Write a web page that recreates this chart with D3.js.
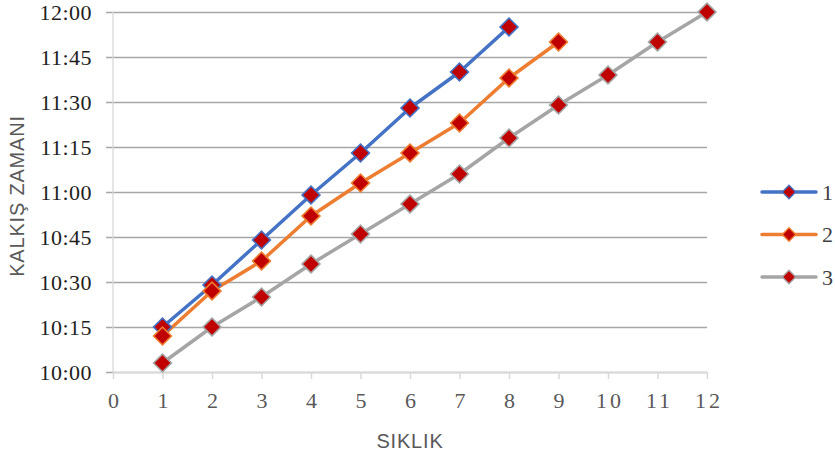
<!DOCTYPE html>
<html>
<head>
<meta charset="utf-8">
<script src="https://cdn.jsdelivr.net/npm/d3@7"></script>
<style>
  body { margin: 0; background: #fff; }
  .serif { font-family: "Liberation Serif", "Times New Roman", "DejaVu Serif", serif; }
  .sans { font-family: "Liberation Sans", Arial, sans-serif; }
</style>
</head>
<body>
<div id="wrapper"></div>
<script>
// values
const xTicks = [0, 1, 2, 3, 4, 5, 6, 7, 8, 9, 10, 11, 12];
const yTicks = ["10:00", "10:15", "10:30", "10:45", "11:00", "11:15", "11:30", "11:45", "12:00"];
const seriesNames = ["1", "2", "3"];
const seriesColors = ["#4472C4", "#ED7D31", "#A5A5A5"];
const series1 = ["10:15", "10:29", "10:44", "10:59", "11:13", "11:28", "11:40", "11:55"];
const series2 = ["10:12", "10:27", "10:37", "10:52", "11:03", "11:13", "11:23", "11:38", "11:50"];
const series3 = ["10:03", "10:15", "10:25", "10:36", "10:46", "10:56", "11:06", "11:18", "11:29", "11:39", "11:50", "12:00"];
const markerFill = "#C00000";

function buildPlot() {
    const toMin = (s) => { const p = s.split(":"); return +p[0] * 60 + +p[1]; };
    const fmt = (m) => Math.floor(m / 60) + ":" + String(m % 60).padStart(2, "0");

    const allSeries = [series1, series2, series3].map((vals, i) => ({
        name: seriesNames[i],
        color: seriesColors[i],
        points: vals.map((v, j) => ({ x: j + 1, y: toMin(v) }))
    }));

    const dimension = {
        width: 835,
        height: 458,
        margin: { top: 12, left: 113, bottom: 86, right: 128 }
    };
    dimension.boundedWidth = dimension.width - dimension.margin.left - dimension.margin.right;
    dimension.boundedHeight = dimension.height - dimension.margin.top - dimension.margin.bottom;

    const svg = d3.select("#wrapper").append("svg")
        .attr("width", dimension.width)
        .attr("height", dimension.height);

    const bounded = svg.append("g")
        .attr("transform", `translate(${dimension.margin.left},${dimension.margin.top})`);

    const xScaler = d3.scaleLinear()
        .domain(d3.extent(xTicks))
        .range([0, dimension.boundedWidth]);

    const yTickVals = yTicks.map(toMin);
    const yScaler = d3.scaleLinear()
        .domain(d3.extent(yTickVals))
        .range([dimension.boundedHeight, 0]);

    // horizontal gridlines (with the small outside tick)
    const yAxis = d3.axisLeft(yScaler)
        .tickValues(yTickVals)
        .tickSizeInner(-dimension.boundedWidth)
        .tickSizeOuter(0)
        .tickFormat(fmt)
        .tickPadding(21);
    const yG = bounded.append("g").call(yAxis).attr("font-family", null);
    yG.select(".domain").remove();
    yG.selectAll(".tick line")
        .attr("x1", -7)
        .attr("stroke", "#a6a6a6")
        .attr("stroke-width", 1.3);
    yG.selectAll(".tick text")
        .attr("class", "serif")
        .style("font-size", "22px")
        .style("letter-spacing", "0.5px")
        .attr("fill", "#1e1e1e");

    // left axis line
    bounded.append("line")
        .attr("x1", 0).attr("x2", 0)
        .attr("y1", 0).attr("y2", dimension.boundedHeight)
        .attr("stroke", "#d9d9d9")
        .attr("stroke-width", 1.3);

    const xAxis = d3.axisBottom(xScaler)
        .tickValues(xTicks)
        .tickSizeInner(7)
        .tickSizeOuter(0)
        .tickPadding(13);
    const xG = bounded.append("g")
        .attr("transform", `translate(0,${dimension.boundedHeight})`)
        .call(xAxis)
        .attr("font-family", null);
    xG.select(".domain").attr("stroke", "#d9d9d9").attr("stroke-width", 1.5);
    xG.selectAll(".tick line").attr("stroke", "#d9d9d9").attr("stroke-width", 1.5);
    xG.selectAll(".tick text")
        .attr("class", "serif")
        .style("font-size", "22px")
        .style("letter-spacing", "3px")
        .attr("dx", 1.5)
        .attr("fill", "#595959");

    const lineGenerator = d3.line()
        .x(d => xScaler(d.x))
        .y(d => yScaler(d.y));

    const diamond = d3.symbol().type(d3.symbolSquare);

    allSeries.forEach(s => {
        bounded.append("path")
            .attr("d", lineGenerator(s.points))
            .attr("fill", "none")
            .attr("stroke", s.color)
            .attr("stroke-width", 3.5)
            .attr("stroke-linejoin", "round")
            .attr("stroke-linecap", "round");
    });

    allSeries.forEach(s => {
        bounded.selectAll(null)
            .data(s.points)
            .join("path")
            .attr("d", diamond.size(160)())
            .attr("transform", d => `translate(${xScaler(d.x)},${yScaler(d.y)}) rotate(45)`)
            .attr("fill", markerFill)
            .attr("stroke", s.color)
            .attr("stroke-width", 1.6);
    });

    // axis titles
    svg.append("text")
        .attr("class", "sans")
        .attr("x", dimension.margin.left + dimension.boundedWidth / 2)
        .attr("y", 448)
        .attr("text-anchor", "middle")
        .style("font-size", "20px")
        .style("letter-spacing", "0.8px")
        .attr("fill", "#595959")
        .text("SIKLIK");

    svg.append("text")
        .attr("class", "sans")
        .attr("transform", "translate(24,196) rotate(-90)")
        .attr("text-anchor", "middle")
        .style("font-size", "20px")
        .style("letter-spacing", "0.8px")
        .attr("fill", "#595959")
        .text("KALKIŞ ZAMANI");

    // legend
    const legend = svg.append("g").attr("transform", "translate(762,192)");
    const legendItem = legend.selectAll("g")
        .data(allSeries)
        .join("g")
        .attr("transform", (d, i) => `translate(0,${i * 42.5})`);
    legendItem.append("line")
        .attr("x1", 0).attr("x2", 54)
        .attr("stroke", d => d.color)
        .attr("stroke-width", 3.5)
        .attr("stroke-linecap", "round");
    legendItem.append("path")
        .attr("d", diamond.size(90)())
        .attr("transform", "translate(27,0) rotate(45)")
        .attr("fill", markerFill)
        .attr("stroke", d => d.color)
        .attr("stroke-width", 1.4);
    legendItem.append("text")
        .attr("class", "serif")
        .attr("x", 60)
        .attr("y", 7.5)
        .style("font-size", "22px")
        .attr("fill", "#404040")
        .text(d => d.name);
}

buildPlot();
</script>
</body>
</html>
